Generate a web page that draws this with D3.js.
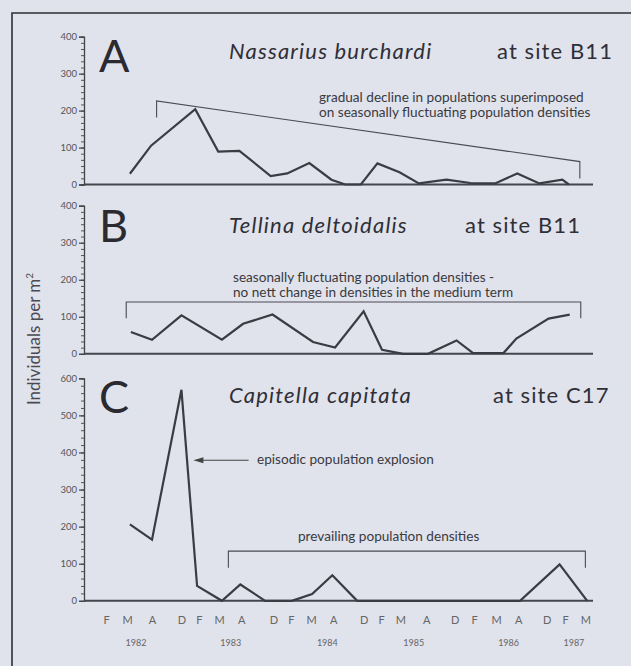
<!DOCTYPE html>
<html>
<head>
<meta charset="utf-8">
<script src="https://cdn.jsdelivr.net/npm/d3@7"></script>
<style>
  html, body { margin: 0; padding: 0; background: #e0e2ec; }
  svg { display: block; }
  text { font-family: Lato, "Open Sans", "Noto Sans", sans-serif; fill: #333; }
</style>
</head>
<body>
<svg id="chart" width="631" height="666"></svg>
<script>
// ---------- DATA ----------
// x positions are approximate sampling times (decimal years, axis is not calendar-uniform)
const monthLabels = ["F","M","A","D","F","M","A","D","F","M","A","D","F","M","A","D","F","M","A","D","F","M"];
const monthTimes  = [1982.10,1982.33,1982.60,1982.92,1983.11,1983.33,1983.57,1983.92,1984.11,1984.33,1984.57,1984.90,
                     1985.09,1985.30,1985.58,1985.89,1986.10,1986.34,1986.58,1986.89,1987.09,1987.31];
const yearLabels  = ["1982","1983","1984","1985","1986","1987"];
const yearTimes   = [1982.42,1983.45,1984.50,1985.44,1986.47,1987.18];

// A: Nassarius burchardi at site B11
const nassariusTimes  = [1982.36,1982.59,1983.07,1983.32,1983.55,1983.89,1984.07,1984.31,1984.55,1984.70,1984.87,
                         1985.05,1985.29,1985.50,1985.80,1986.06,1986.33,1986.57,1986.81,1987.06,1987.13];
const nassariusValues = [29,105,204,89,91,23,30,58,13,0,0,57,33,3,13,4,3,30,3,13,0];

// B: Tellina deltoidalis at site B11
const tellinaTimes  = [1982.37,1982.60,1982.92,1983.36,1983.59,1983.91,1984.35,1984.59,1984.90,1985.10,1985.33,
                       1985.60,1985.91,1986.09,1986.42,1986.56,1986.91,1987.14];
const tellinaValues = [59,38,104,38,81,106,32,17,115,11,0,0,36,2,2,41,95,106];

// C: Capitella capitata at site C17
const capitellaTimes  = [1982.36,1982.60,1982.92,1983.09,1983.36,1983.56,1983.83,1984.12,1984.34,1984.56,1984.83,
                         1985.09,1985.30,1985.58,1985.89,1986.10,1986.34,1986.60,1987.03,1987.33];
const capitellaValues = [206,165,569,40,0,44,0,0,18,69,0,0,0,0,0,0,0,0,98,0];

// annotation brackets: [leftTime, rightTime, leftTop, leftBottom, rightTop, rightBottom]
const bracketA = [1982.65, 1987.25, 226, 181, 62, 16];
const bracketB = [1982.32, 1987.26, 140, 96, 140, 96];
const bracketC = [1983.43, 1987.31, 134, 89, 134, 89];
const arrowC   = [1983.05, 1983.65, 379];

const yTicksA = [0,100,200,300,400];
const yTicksB = [0,100,200,300,400];
const yTicksC = [0,100,200,300,400,500,600];

// ---------- DRAW ----------
const svg = d3.select("#chart");
const ink = "#3b3b44";

svg.append("rect").attr("width",631).attr("height",666).attr("fill","#e0e2ec");
// frame
svg.append("path").attr("d","M12,672 L12,13 L640,13").attr("fill","none")
   .attr("stroke","#2e2e36").attr("stroke-width",1.6);

const x = d3.scaleLinear().domain([1981.861, 1987.393]).range([84, 593]);

const panels = [
  {letter:"A", species:"Nassarius burchardi", site:"at site B11", siteX:497, times:nassariusTimes, values:nassariusValues,
   max:400, zero:184.5, top:36.7, ticks:yTicksA, minorStep:100/6, titleY:59, letterY:72,
   bracket:bracketA,
   note:["gradual decline in populations superimposed","on seasonally fluctuating population densities"], noteX:319, noteY:[102,117]},
  {letter:"B", species:"Tellina deltoidalis", site:"at site B11", siteX:465, times:tellinaTimes, values:tellinaValues,
   max:400, zero:353.8, top:205.7, ticks:yTicksB, minorStep:100/6, titleY:233, letterY:241.5,
   bracket:bracketB,
   note:["seasonally fluctuating population densities -","no nett change in densities in the medium term"], noteX:233, noteY:[282,297]},
  {letter:"C", species:"Capitella capitata", site:"at site C17", siteX:493, times:capitellaTimes, values:capitellaValues,
   max:600, zero:600.8, top:378.3, ticks:yTicksC, minorStep:20, titleY:402.5, letterY:413,
   bracket:bracketC,
   note:["prevailing population densities"], noteX:298, noteY:[541]}
];

panels.forEach(p => {
  const y = d3.scaleLinear().domain([0, p.max]).range([p.zero, p.top]);
  const g = svg.append("g");

  // minor ticks
  const minor = d3.range(0, p.max + 0.01, p.minorStep);
  g.append("g").attr("transform","translate(84,0)")
    .call(d3.axisLeft(y).tickValues(minor).tickSize(3).tickFormat(""))
    .call(a => a.select(".domain").remove())
    .call(a => a.selectAll("line").attr("stroke","#555").attr("stroke-width",1));
  // major ticks + labels
  g.append("g").attr("transform","translate(84,0)")
    .call(d3.axisLeft(y).tickValues(p.ticks).tickSize(5).tickPadding(2).tickFormat(d3.format("d")))
    .call(a => a.select(".domain").attr("stroke","#444").attr("stroke-width",1.3))
    .call(a => a.selectAll("line").attr("stroke","#444").attr("stroke-width",1.2))
    .call(a => a.selectAll("text").attr("font-size",9.5).style("fill","#555")
                 .attr("font-family","Lato, sans-serif").attr("dy","0.32em"));

  // x axis line
  g.append("line").attr("x1",x.range()[0]).attr("x2",x.range()[1])
    .attr("y1",y(0)).attr("y2",y(0)).attr("stroke","#45454e").attr("stroke-width",2);

  // data line
  const pts = p.times.map((t,i) => [t, p.values[i]]);
  g.append("path").datum(pts)
    .attr("fill","none").attr("stroke",ink).attr("stroke-width",2.2).attr("stroke-linejoin","miter")
    .attr("d", d3.line().x(d => x(d[0])).y(d => y(d[1])));

  // bracket
  const b = p.bracket;
  g.append("path")
    .attr("d", `M${x(b[0])},${y(b[3])} L${x(b[0])},${y(b[2])} L${x(b[1])},${y(b[4])} L${x(b[1])},${y(b[5])}`)
    .attr("fill","none").attr("stroke","#4a4a52").attr("stroke-width",1.1);

  // titles
  g.append("text").attr("x",99).attr("y",p.letterY).attr("font-size",45).text(p.letter).style("fill","#2a2a30");
  g.append("text").attr("x",229).attr("y",p.titleY).attr("font-size",22).attr("font-style","italic")
    .attr("letter-spacing",1.2).style("fill","#2f2f36").text(p.species);
  g.append("text").attr("x",p.siteX).attr("y",p.titleY)
    .attr("font-size",22).attr("letter-spacing",1.1).style("fill","#2f2f36").text(p.site);

  // notes
  p.note.forEach((s,i) => {
    g.append("text").attr("x",p.noteX).attr("y",p.noteY[i]).attr("font-size",13.6).style("fill","#3a3a40").text(s);
  });

  // arrow for C
  if (p.letter === "C") {
    const ay = y(arrowC[2]);
    g.append("line").attr("x1",x(arrowC[0])+8).attr("x2",x(arrowC[1])).attr("y1",ay).attr("y2",ay)
      .attr("stroke","#444").attr("stroke-width",1.1);
    g.append("path").attr("d",`M${x(arrowC[0])},${ay} l10,-3 l0,6 z`).attr("fill","#444");
    g.append("text").attr("x",257).attr("y",ay+4).attr("font-size",13.6).style("fill","#3a3a40")
      .text("episodic population explosion");

    // month labels
    svg.append("g").attr("transform",`translate(0,${y(0)})`)
      .call(d3.axisBottom(x).tickValues(monthTimes).tickSize(0).tickPadding(15)
            .tickFormat((d,i) => monthLabels[i]))
      .call(a => a.select(".domain").remove())
      .call(a => a.selectAll("text").attr("font-size",11).style("fill","#666")
                   .attr("font-family","Lato, sans-serif"));
    // year labels
    svg.append("g").attr("transform",`translate(0,${y(0)})`)
      .call(d3.axisBottom(x).tickValues(yearTimes).tickSize(0).tickPadding(39)
            .tickFormat((d,i) => yearLabels[i]))
      .call(a => a.select(".domain").remove())
      .call(a => a.selectAll("text").attr("font-size",9).style("fill","#666")
                   .attr("font-family","Lato, sans-serif"));
  }
});

// y-axis title
svg.append("text")
  .attr("transform","translate(40,339) rotate(-90)")
  .attr("text-anchor","middle").attr("font-size",17).style("fill","#4a4a52")
  .html('Individuals per m<tspan dy="-7" font-size="10">2</tspan>');
</script>
</body>
</html>
